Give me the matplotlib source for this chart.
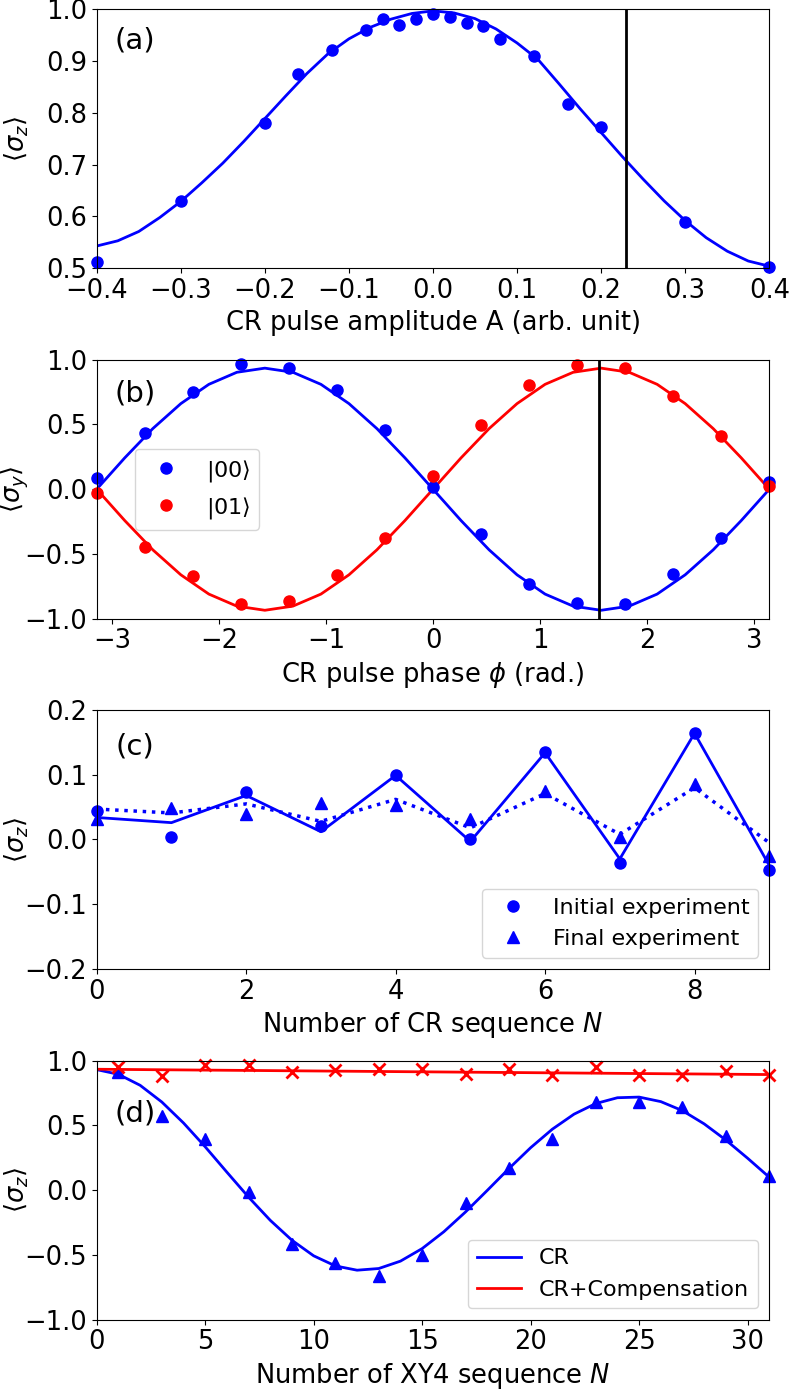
import numpy as np
import matplotlib
matplotlib.use('Agg')
import matplotlib.pyplot as plt

# ================================
# data
# ================================

# (a) amplitude scan
amp_x = [-0.4, -0.3, -0.2, -0.16, -0.12, -0.08, -0.06, -0.04, -0.02, 0.0,
         0.02, 0.04, 0.06, 0.08, 0.12, 0.16, 0.2, 0.3, 0.4]
amp_sz = [0.512, 0.629, 0.781, 0.875, 0.922, 0.961, 0.981, 0.970, 0.982, 0.990,
          0.986, 0.973, 0.968, 0.942, 0.909, 0.817, 0.773, 0.590, 0.503]
amp_fit_x = [-0.4, -0.375, -0.35, -0.325, -0.3, -0.275, -0.25, -0.225, -0.2, -0.175,
             -0.15, -0.125, -0.1, -0.075, -0.05, -0.025, 0.0, 0.025, 0.05, 0.075,
             0.1, 0.125, 0.15, 0.175, 0.2, 0.225, 0.25, 0.275, 0.3, 0.325,
             0.35, 0.375, 0.4]
amp_fit = [0.543, 0.553, 0.571, 0.598, 0.629, 0.665, 0.703, 0.745, 0.789, 0.833,
           0.876, 0.914, 0.943, 0.965, 0.981, 0.992, 0.997, 0.993, 0.982, 0.962,
           0.935, 0.903, 0.856, 0.808, 0.762, 0.716, 0.672, 0.630, 0.592, 0.559,
           0.533, 0.514, 0.504]
amp_line = 0.23

# (b) phase scan
phase_x = [-3.142, -2.693, -2.244, -1.795, -1.346, -0.898, -0.449, 0.0,
           0.449, 0.898, 1.346, 1.795, 2.244, 2.693, 3.142]
sy_00 = [0.09, 0.434, 0.753, 0.967, 0.936, 0.764, 0.458, 0.015,
         -0.344, -0.733, -0.882, -0.887, -0.658, -0.375, 0.057]
sy_01 = [-0.033, -0.447, -0.671, -0.889, -0.861, -0.663, -0.373, 0.105,
         0.496, 0.805, 0.961, 0.933, 0.720, 0.414, 0.028]
phase_fit_x = [-3.142, -2.880, -2.618, -2.356, -2.094, -1.833, -1.571, -1.309,
               -1.047, -0.785, -0.524, -0.262, 0.0, 0.262, 0.524, 0.785,
               1.047, 1.309, 1.571, 1.833, 2.094, 2.356, 2.618, 2.880, 3.142]
fit_00 = [0.0, 0.242, 0.468, 0.661, 0.810, 0.903, 0.935, 0.903,
          0.810, 0.661, 0.468, 0.242, 0.0, -0.242, -0.468, -0.661,
          -0.810, -0.903, -0.935, -0.903, -0.810, -0.661, -0.468, -0.242, 0.0]
fit_01 = [0.0, -0.242, -0.468, -0.661, -0.810, -0.903, -0.935, -0.903,
          -0.810, -0.661, -0.468, -0.242, 0.0, 0.242, 0.468, 0.661,
          0.810, 0.903, 0.935, 0.903, 0.810, 0.661, 0.468, 0.242, 0.0]
phase_line = 1.55

# (c) CR sequence
cr_n = [0, 1, 2, 3, 4, 5, 6, 7, 8, 9]
init_exp = [0.044, 0.004, 0.073, 0.021, 0.100, 0.001, 0.135, -0.036, 0.165, -0.047]
final_exp = [0.031, 0.049, 0.039, 0.056, 0.053, 0.031, 0.075, 0.004, 0.085, -0.026]
init_fit = [0.034, 0.026, 0.068, 0.012, 0.099, -0.003, 0.134, -0.030, 0.164, -0.040]
final_fit = [0.047, 0.041, 0.055, 0.028, 0.062, 0.018, 0.071, 0.008, 0.080, -0.005]

# (d) XY4 sequence
xy_n = [1, 3, 5, 7, 9, 11, 13, 15, 17, 19, 21, 23, 25, 27, 29, 31]
cr_pts = [0.915, 0.574, 0.395, -0.013, -0.418, -0.567, -0.667, -0.503,
          -0.097, 0.172, 0.395, 0.679, 0.682, 0.641, 0.415, 0.108]
comp_pts = [0.954, 0.882, 0.967, 0.964, 0.913, 0.928, 0.938, 0.938,
            0.897, 0.936, 0.890, 0.949, 0.887, 0.887, 0.923, 0.885]
cr_fit_n = list(range(32))
cr_fit = [0.930, 0.894, 0.809, 0.680, 0.518, 0.334, 0.138, -0.055,
          -0.234, -0.388, -0.508, -0.586, -0.619, -0.606, -0.549, -0.452,
          -0.322, -0.169, -0.003, 0.166, 0.327, 0.470, 0.586, 0.668,
          0.713, 0.718, 0.683, 0.613, 0.511, 0.386, 0.246, 0.099]
comp_fit_n = [0, 31]
comp_fit = [0.933, 0.892]

# ================================
# figure
# ================================
fs = 18.5
plt.rcParams['font.family'] = 'DejaVu Sans'
plt.rcParams['mathtext.fontset'] = 'dejavusans'

fig = plt.figure(figsize=(7.89, 13.9), dpi=100)
left, width, height = 0.1226, 0.8524, 0.1863
bottoms = [0.8070, 0.5549, 0.3029, 0.0507]
axs = [fig.add_axes([left, b, width, height]) for b in bottoms]

def panel_label(ax, txt, y):
    ax.text(0.057, y, txt, transform=ax.transAxes, fontsize=21,
            ha='center', va='center')

# (a)
ax = axs[0]
ax.plot(amp_fit_x, amp_fit, color='blue', lw=2)
ax.plot(amp_x, amp_sz, 'o', color='blue', ms=8, clip_on=False)
ax.axvline(amp_line, color='black', lw=2)
ax.set_xlim(-0.4, 0.4)
ax.set_ylim(0.5, 1.0)
ax.set_xticks(np.arange(-0.4, 0.41, 0.1))
ax.set_yticks([0.5, 0.6, 0.7, 0.8, 0.9, 1.0])
ax.set_xlabel('CR pulse amplitude A (arb. unit)', fontsize=fs)
ax.set_ylabel(r'$\langle\sigma_z\rangle$', fontsize=fs)
panel_label(ax, '(a)', 0.88)

# (b)
ax = axs[1]
ax.plot(phase_fit_x, fit_00, color='blue', lw=2)
ax.plot(phase_fit_x, fit_01, color='red', lw=2)
ax.plot(phase_x, sy_00, 'o', color='blue', ms=8, label=r'$|00\rangle$', clip_on=False)
ax.plot(phase_x, sy_01, 'o', color='red', ms=8, label=r'$|01\rangle$', clip_on=False)
ax.axvline(phase_line, color='black', lw=2)
ax.set_xlim(-np.pi, np.pi)
ax.set_ylim(-1.0, 1.0)
ax.set_xticks([-3, -2, -1, 0, 1, 2, 3])
ax.set_yticks([-1.0, -0.5, 0.0, 0.5, 1.0])
ax.set_xlabel(r'CR pulse phase $\phi$ (rad.)', fontsize=fs)
ax.set_ylabel(r'$\langle\sigma_y\rangle$', fontsize=fs)
ax.legend(loc='center left', bbox_to_anchor=(0.04, 0.5), fontsize=16,
          numpoints=1)
panel_label(ax, '(b)', 0.87)

# (c)
ax = axs[2]
ax.plot(cr_n, init_fit, '-', color='blue', lw=2)
ax.plot(cr_n, final_fit, ':', color='blue', lw=2.5)
ax.plot(cr_n, init_exp, 'o', color='blue', ms=8, label='Initial experiment', clip_on=False)
ax.plot(cr_n, final_exp, '^', color='blue', ms=8, label='Final experiment', clip_on=False)
ax.set_xlim(0, 9)
ax.set_ylim(-0.2, 0.2)
ax.set_xticks([0, 2, 4, 6, 8])
ax.set_yticks([-0.2, -0.1, 0.0, 0.1, 0.2])
ax.set_xlabel(r'Number of CR sequence $N$', fontsize=fs)
ax.set_ylabel(r'$\langle\sigma_z\rangle$', fontsize=fs)
ax.legend(loc='lower right', fontsize=16, numpoints=1)
panel_label(ax, '(c)', 0.861)

# (d)
ax = axs[3]
ax.plot(cr_fit_n, cr_fit, color='blue', lw=2, label='CR')
ax.plot(comp_fit_n, comp_fit, color='red', lw=2, label='CR+Compensation')
ax.plot(xy_n, cr_pts, '^', color='blue', ms=8, clip_on=False)
ax.plot(xy_n, comp_pts, 'x', color='red', ms=9, mew=2, clip_on=False)
ax.set_xlim(0, 31)
ax.set_ylim(-1.0, 1.0)
ax.set_xticks([0, 5, 10, 15, 20, 25, 30])
ax.set_yticks([-1.0, -0.5, 0.0, 0.5, 1.0])
ax.set_xlabel(r'Number of XY4 sequence $N$', fontsize=fs)
ax.set_ylabel(r'$\langle\sigma_z\rangle$', fontsize=fs)
ax.legend(loc='lower right', fontsize=16)
panel_label(ax, '(d)', 0.794)

for ax in axs:
    ax.tick_params(labelsize=fs)
    # y labels sit at a fixed spot, like in the original
    ax.yaxis.set_label_coords(-0.098, 0.5)

fig.savefig('out.png', dpi=100)
